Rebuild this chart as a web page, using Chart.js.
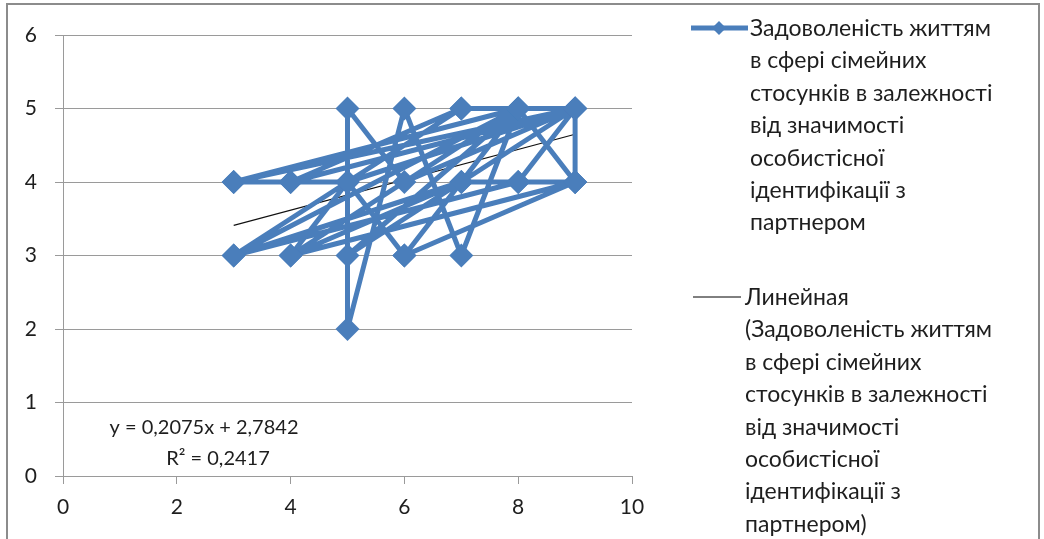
<!DOCTYPE html>
<html>
<head>
<meta charset="utf-8">
<script src="https://cdn.jsdelivr.net/npm/chart.js@4.4.1/dist/chart.umd.min.js"></script>
<style>
  html, body { margin: 0; padding: 0; background: #fff; overflow: hidden; }
  #wrap { position: relative; width: 1044px; height: 539px; overflow: hidden; }
  #frame { position: absolute; left: 6px; top: 3px; width: 1034px; height: 560px; border: 2px solid #8c8c8c; box-sizing: border-box; }
  canvas#c { position: absolute; left: 0; top: 0; }
  .leg { position: absolute; font-family: Lato, "Open Sans", sans-serif; font-size: 23px; color: #1e1e1e; line-height: 32.4px; white-space: nowrap; }
  .icon { position: absolute; }
</style>
</head>
<body>
<div id="wrap">
  <div id="frame"></div>
  <canvas id="c" width="1044" height="539"></canvas>
  <svg class="icon" style="left:688px;top:18px" width="64" height="20">
    <line x1="3" y1="10" x2="60" y2="10" stroke="#4a7ebb" stroke-width="5"/>
    <polygon points="31,3 38,10 31,17 24,10" fill="#4a7ebb"/>
  </svg>
  <div class="leg" style="left:750px;top:11px">Задоволеність життям<br>в сфері сімейних<br>стосунків в залежності<br>від значимості<br>особистісної<br>ідентифікації з<br>партнером</div>
  <svg class="icon" style="left:688px;top:287px" width="64" height="20">
    <line x1="5" y1="10" x2="53" y2="10" stroke="#000" stroke-width="1"/>
  </svg>
  <div class="leg" style="left:745px;top:280px">Линейная<br>(Задоволеність життям<br>в сфері сімейних<br>стосунків в залежності<br>від значимості<br>особистісної<br>ідентифікації з<br>партнером)</div>
</div>
<script>
// Series values (in drawing order)
const seriesX = [3,4,5,5,6,9,3,8,7,6,5,5,9,9,8,7,9,8,9,4,5,3,8,7,6,5,7,4,9,5,8,3,7,4,8,6,9];
const seriesY = [4,4,4,5,4,5,4,5,3,5,2,4,5,4,5,5,5,4,4,3,4,3,4,4,3,4,5,4,5,3,5,3,4,3,5,3,4];
// Trendline end points
const trendX = [3, 9];
const trendY = [3.41, 4.65];
// Tick labels / axis ranges
const xTicks = [0, 2, 4, 6, 8, 10];
const yTicks = [0, 1, 2, 3, 4, 5, 6];
const seriesName = "Задоволеність життям в сфері сімейних стосунків в залежності від значимості особистісної ідентифікації з партнером";
const trendName = "Линейная (" + seriesName + ")";
const equationLines = ["y = 0,2075x + 2,7842", "R² = 0,2417"];

const pts = seriesX.map((x, i) => ({x: x, y: seriesY[i]}));
const tpts = trendX.map((x, i) => ({x: x, y: trendY[i]}));

const FONT = 'Lato, "Open Sans", sans-serif';

const eqPlugin = {
  id: 'eq',
  afterDatasetsDraw(chart) {
    const ctx = chart.ctx;
    ctx.save();
    ctx.fillStyle = '#1e1e1e';
    ctx.font = '20px ' + FONT;
    ctx.textBaseline = 'middle';
    ctx.textAlign = 'center';
    ctx.fillText(equationLines[0], 204, 428);
    ctx.fillText(equationLines[1], 218, 459);
    ctx.restore();
  }
};

new Chart(document.getElementById('c'), {
  type: 'scatter',
  data: {
    datasets: [
      {
        label: seriesName,
        data: pts,
        showLine: true,
        borderColor: '#4a7ebb',
        backgroundColor: '#4a7ebb',
        borderWidth: 5,
        borderJoinStyle: 'round',
        borderCapStyle: 'round',
        pointStyle: 'rectRot',
        pointRadius: 12,
        pointHoverRadius: 12,
        pointBorderWidth: 0,
        tension: 0
      },
      {
        label: trendName,
        data: tpts,
        showLine: true,
        borderColor: '#111',
        borderWidth: 1.2,
        pointRadius: 0,
        tension: 0
      }
    ]
  },
  options: {
    responsive: false,
    animation: false,
    devicePixelRatio: 1,
    layout: { padding: { left: 0, top: 35, right: 412, bottom: 0 } },
    plugins: { legend: { display: false }, tooltip: { enabled: false } },
    scales: {
      x: {
        type: 'linear',
        min: 0, max: 10,
        afterBuildTicks(s) { s.ticks = xTicks.map(v => ({value: v})); },
        afterFit(s) { s.height = 63; },
        ticks: { color: '#1e1e1e', font: { family: FONT, size: 21 }, padding: 11 },
        grid: { drawOnChartArea: false, drawTicks: true, tickLength: 8, color: '#9a9a9a', lineWidth: 1 },
        border: { display: true, color: '#9a9a9a', width: 1 }
      },
      y: {
        type: 'linear',
        min: 0, max: 6,
        afterBuildTicks(s) { s.ticks = yTicks.map(v => ({value: v})); },
        afterFit(s) { s.width = 63; },
        ticks: { color: '#1e1e1e', font: { family: FONT, size: 21 }, padding: 18 },
        grid: { drawOnChartArea: true, drawTicks: true, tickLength: 8, color: '#9a9a9a', lineWidth: 1 },
        border: { display: true, color: '#9a9a9a', width: 1 }
      }
    }
  },
  plugins: [eqPlugin]
});
</script>
</body>
</html>
